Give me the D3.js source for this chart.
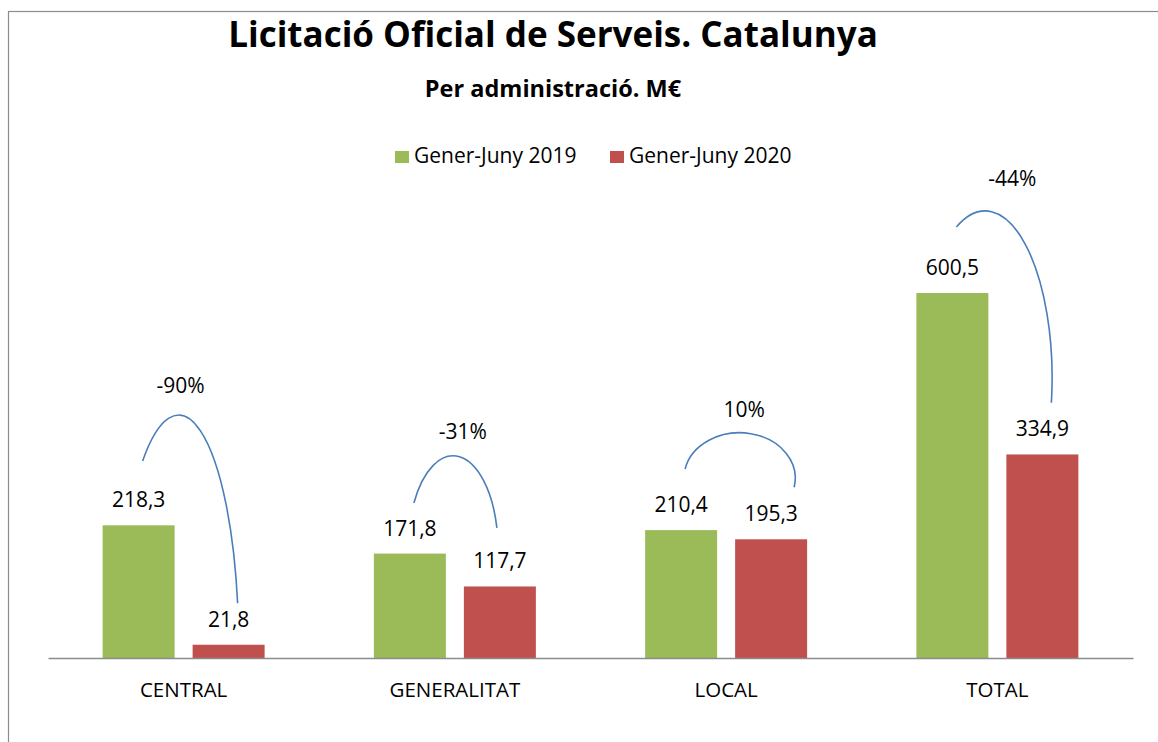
<!DOCTYPE html>
<html>
<head>
<meta charset="utf-8">
<script src="https://cdn.jsdelivr.net/npm/d3@7"></script>
<style>
	body { margin: 0; background: #fff; }
	text { font-family: "Open Sans", sans-serif; fill: #000; }
</style>
</head>
<body>
<svg id="chart"></svg>

<script type="text/javascript">

	// data
	let categories = ["CENTRAL", "GENERALITAT", "LOCAL", "TOTAL"]
	let seriesNames = ["Gener-Juny 2019", "Gener-Juny 2020"]
	let values2019 = [218.3, 171.8, 210.4, 600.5]
	let values2020 = [21.8, 117.7, 195.3, 334.9]
	let seriesColours = ["#9bbb59", "#c0504d"]

	// the blue curved arrows with the % change
	let changeLabels = ["-90%", "-31%", "10%", "-44%"]
	let changeLabelAt = [436, 361, 396, 776]   // height, in M€ units
	let changeLabelShift = [-3, 8, 18, 15]
	let arcFrom = [324, 255, 311, 709]          // start height, M€ units
	let arcTo = [90, 214, 281, 420]             // end height, M€ units
	let arcReach = [9, -3, 23, 9]
	let arcRx = [60, 45, 54, 67]
	let arcRy = [230, 93, 44, 167]

	// sizes
	let width = 1158
	let height = 742
	let plotLeft = 48
	let plotRight = 1133
	let baseY = 658

	let chart = d3.select("#chart")
		.attr("width", width)
		.attr("height", height)

	// chart frame
	chart.append("rect")
		.attr("x", 8.5).attr("y", 11.5)
		.attr("width", width).attr("height", height)
		.style("fill", "none")
		.style("stroke", "#8c8c8c")
		.style("stroke-width", 1.2)

	// title
	chart.append("text")
		.attr("x", 553).attr("y", 47)
		.attr("text-anchor", "middle")
		.style("font-weight", "bold")
		.style("font-size", "35px")
		.text("Licitació Oficial de Serveis. Catalunya")

	chart.append("text")
		.attr("x", 553).attr("y", 97)
		.attr("text-anchor", "middle")
		.style("font-weight", "bold")
		.style("font-size", "23.5px")
		.text("Per administració. M€")

	// scales
	let xScale = d3.scaleBand()
		.domain(categories)
		.range([plotLeft, plotRight])

	let xSub = d3.scaleBand()
		.domain(seriesNames)
		.range([0, xScale.bandwidth()])
		.paddingInner(0.2)
		.paddingOuter(0.607)

	let yScale = d3.scaleLinear()
		.domain([0, 700])
		.range([baseY, baseY - 700 * 0.6078])

	let colour = d3.scaleOrdinal().domain(seriesNames).range(seriesColours)

	let rows = categories.map(function(c, i){
		return { cat: c, values: [
			{ series: seriesNames[0], value: values2019[i] },
			{ series: seriesNames[1], value: values2020[i] }
		]}
	})

	let groups = chart.selectAll("g.group")
		.data(rows)
		.enter().append("g")
		.classed("group", true)
		.attr("transform", function(d){ return "translate(" + xScale(d.cat) + ",0)" })

	groups.selectAll("rect")
		.data(function(d){ return d.values })
		.enter().append("rect")
		.attr("x", function(d){ return xSub(d.series) })
		.attr("width", xSub.bandwidth())
		.attr("y", function(d){ return yScale(d.value) })
		.attr("height", function(d){ return baseY - yScale(d.value) })
		.style("fill", function(d){ return colour(d.series) })

	groups.selectAll("text.value")
		.data(function(d){ return d.values })
		.enter().append("text")
		.classed("value", true)
		.attr("x", function(d){ return xSub(d.series) + xSub.bandwidth() / 2 })
		.attr("y", function(d){ return yScale(d.value) - 18 })
		.attr("text-anchor", "middle")
		.style("font-size", "21px")
		.text(function(d){ return d3.format(".1f")(d.value).replace(".", ",") })

	// x axis, just the line and the labels
	let xAxis = d3.axisBottom(xScale).tickSize(0).tickPadding(24)
	let xAxisGlyph = chart.append("g")
		.attr("transform", "translate(0," + baseY + ")")
		.call(xAxis)
	xAxisGlyph.select(".domain")
		.attr("stroke", "#8c8c8c")
		.attr("stroke-width", 1.6)
	xAxisGlyph.selectAll(".tick text")
		.style("font-family", "'Open Sans', sans-serif")
		.style("font-size", "20.5px")
		.attr("fill", "#000")

	// curved arrows
	groups.append("path")
		.attr("d", function(d, i){
			let x0 = xSub(seriesNames[0]) + xSub.bandwidth() / 2 + 4
			let x1 = xSub(seriesNames[1]) + xSub.bandwidth() / 2 + arcReach[i]
			return "M" + x0 + "," + yScale(arcFrom[i]) +
				" A" + arcRx[i] + "," + arcRy[i] + " 0 0 1 " + x1 + "," + yScale(arcTo[i])
		})
		.style("fill", "none")
		.style("stroke", "#4a7ebb")
		.style("stroke-width", 1.6)

	groups.append("text")
		.attr("x", function(d, i){ return xScale.bandwidth() / 2 + changeLabelShift[i] })
		.attr("y", function(d, i){ return yScale(changeLabelAt[i]) })
		.attr("text-anchor", "middle")
		.style("font-size", "21px")
		.text(function(d, i){ return changeLabels[i] })

	// legend
	let legend = chart.append("g").attr("transform", "translate(395,0)")
	let legendItems = legend.selectAll("g")
		.data(seriesNames)
		.enter().append("g")
		.attr("transform", function(d, i){ return "translate(" + (i * 215) + ",0)" })
	legendItems.append("rect")
		.attr("x", 0).attr("y", 151)
		.attr("width", 14).attr("height", 12)
		.style("fill", function(d){ return colour(d) })
	legendItems.append("text")
		.attr("x", 19).attr("y", 163)
		.style("font-size", "21px")
		.text(function(d){ return d })

</script>
</body>
</html>
